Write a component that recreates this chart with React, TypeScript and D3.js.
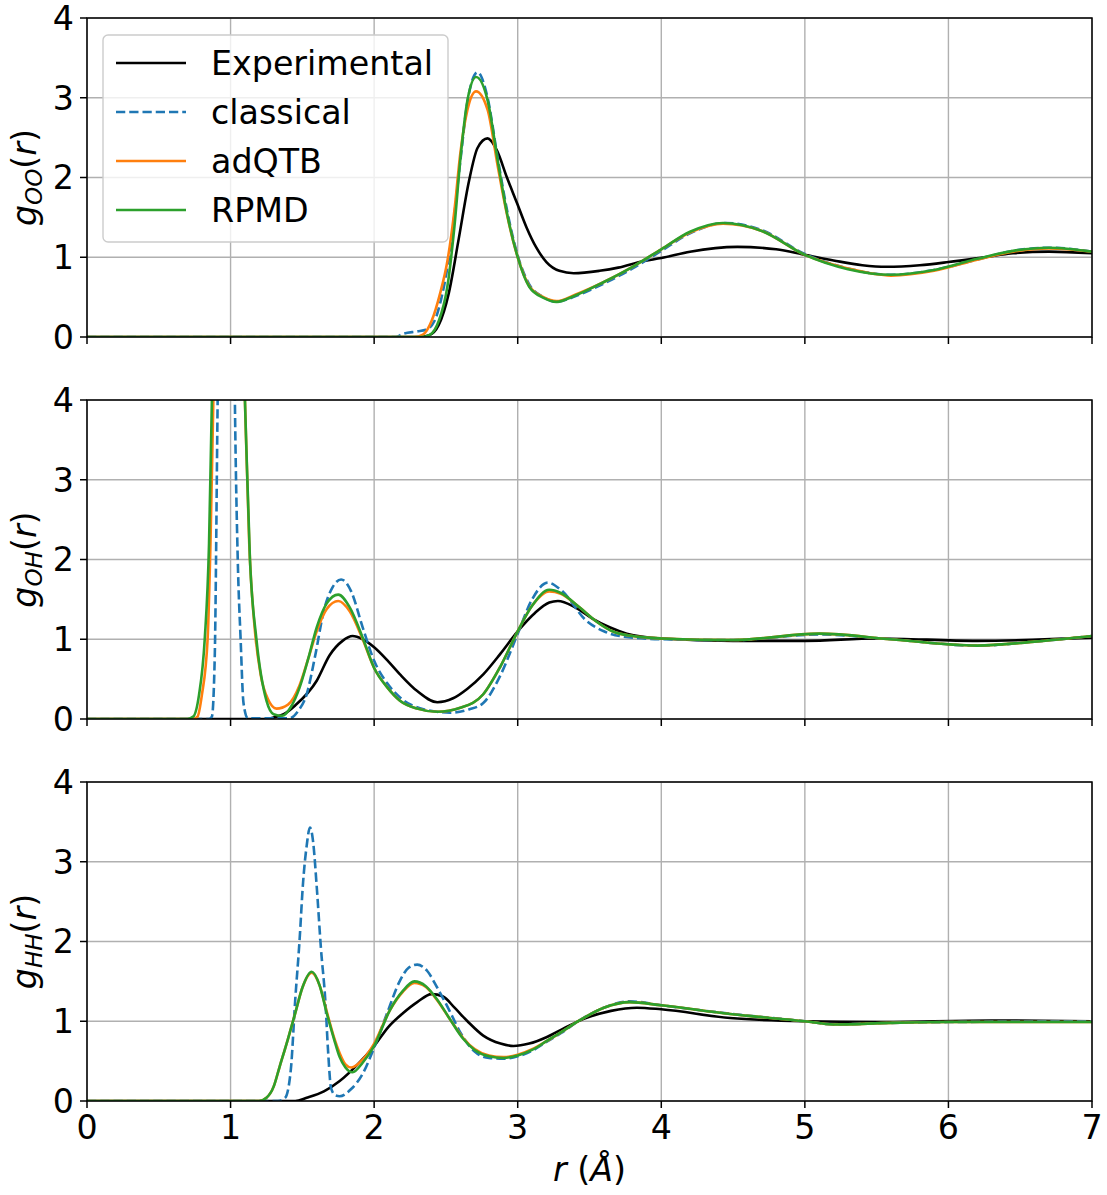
import React from "react";
import * as d3 from "d3";

type P = [number, number];

// ---------- data: g_OO(r) ----------
const ooExp: P[] = [[0,0],[2.3,0],[2.38,0.02],[2.45,0.15],[2.52,0.55],[2.59,1.24],[2.66,1.95],[2.72,2.37],[2.79,2.49],[2.855,2.34],[2.925,2.0],[2.995,1.68],[3.06,1.38],[3.13,1.12],[3.2,0.94],[3.29,0.83],[3.39,0.8],[3.57,0.83],[3.7,0.87],[3.87,0.95],[4.0,0.99],[4.2,1.07],[4.53,1.13],[4.8,1.1],[5.0,1.03],[5.2,0.96],[5.4,0.9],[5.57,0.88],[5.8,0.9],[6.0,0.94],[6.25,1.0],[6.45,1.05],[6.7,1.07],[7.0,1.05]];
const ooCla: P[] = [[0,0],[2.15,0],[2.2,0.04],[2.3,0.07],[2.36,0.09],[2.42,0.2],[2.47,0.5],[2.53,1.1],[2.6,2.2],[2.65,2.95],[2.72,3.32],[2.79,3.0],[2.86,2.25],[2.93,1.55],[3.0,1.02],[3.08,0.66],[3.18,0.5],[3.27,0.44],[3.4,0.51],[3.6,0.67],[3.8,0.86],[4.0,1.08],[4.2,1.3],[4.45,1.43],[4.7,1.34],[5.0,1.04],[5.3,0.86],[5.6,0.78],[5.9,0.84],[6.2,0.97],[6.45,1.08],[6.7,1.12],[7.0,1.07]];
const ooQtb: P[] = [[0,0],[2.28,0],[2.34,0.03],[2.4,0.2],[2.46,0.55],[2.51,0.95],[2.56,1.6],[2.6,2.3],[2.65,2.85],[2.71,3.08],[2.79,2.85],[2.86,2.15],[2.92,1.58],[3.0,1.0],[3.08,0.64],[3.18,0.5],[3.27,0.45],[3.4,0.53],[3.6,0.69],[3.8,0.88],[4.0,1.1],[4.2,1.31],[4.43,1.42],[4.7,1.33],[5.0,1.03],[5.3,0.86],[5.6,0.77],[5.9,0.83],[6.2,0.97],[6.45,1.07],[6.7,1.11],[7.0,1.07]];
const ooRpmd: P[] = [[0,0],[2.33,0],[2.39,0.03],[2.45,0.2],[2.51,0.63],[2.56,1.4],[2.6,2.22],[2.65,2.97],[2.71,3.26],[2.79,2.97],[2.86,2.22],[2.92,1.6],[3.0,1.0],[3.08,0.63],[3.18,0.49],[3.27,0.44],[3.4,0.52],[3.6,0.69],[3.8,0.88],[4.0,1.1],[4.2,1.32],[4.43,1.43],[4.7,1.33],[5.0,1.03],[5.3,0.85],[5.6,0.78],[5.9,0.84],[6.2,0.98],[6.45,1.08],[6.7,1.12],[7.0,1.07]];

// ---------- data: g_OH(r) ----------
const ohExp: P[] = [[0,0],[1.25,0],[1.3,0.02],[1.37,0.06],[1.45,0.17],[1.6,0.48],[1.69,0.8],[1.78,0.98],[1.85,1.04],[1.92,1.0],[2.0,0.9],[2.1,0.72],[2.18,0.56],[2.3,0.35],[2.44,0.21],[2.55,0.26],[2.65,0.38],[2.76,0.56],[2.88,0.82],[3.0,1.1],[3.12,1.33],[3.22,1.46],[3.28,1.48],[3.4,1.4],[3.52,1.26],[3.64,1.15],[3.76,1.07],[4.0,1.01],[4.5,0.98],[5.0,0.98],[5.5,1.01],[6.2,0.98],[7.0,1.02]];
const ohCla: P[] = [[0,0],[0.85,0],[0.87,0.03],[0.89,0.8],[0.91,4],[0.94,8],[0.98,9],[1.01,8],[1.03,4],[1.05,2.0],[1.07,1.0],[1.09,0.2],[1.12,0.01],[1.41,0.01],[1.47,0.1],[1.53,0.31],[1.59,0.8],[1.65,1.36],[1.71,1.65],[1.77,1.75],[1.84,1.6],[1.92,1.15],[2.0,0.73],[2.09,0.45],[2.18,0.27],[2.35,0.12],[2.53,0.08],[2.66,0.12],[2.76,0.2],[2.88,0.55],[3.0,1.07],[3.1,1.5],[3.21,1.71],[3.3,1.62],[3.48,1.23],[3.6,1.1],[3.71,1.04],[4.0,1.0],[4.5,0.99],[5.1,1.06],[5.6,1.0],[6.2,0.92],[6.6,0.97],[7.0,1.04]];
const ohQtb: P[] = [[0,0],[0.74,0],[0.77,0.03],[0.8,0.3],[0.84,1.0],[0.86,2.2],[0.88,4],[0.91,6],[0.98,7.5],[1.07,6],[1.1,4],[1.13,2.2],[1.17,1.1],[1.21,0.55],[1.26,0.25],[1.32,0.13],[1.4,0.18],[1.48,0.42],[1.54,0.75],[1.6,1.1],[1.67,1.38],[1.75,1.48],[1.83,1.35],[1.92,1.0],[2.0,0.64],[2.09,0.4],[2.18,0.23],[2.3,0.13],[2.44,0.09],[2.6,0.14],[2.76,0.31],[2.88,0.66],[3.0,1.1],[3.1,1.42],[3.22,1.6],[3.3,1.57],[3.43,1.4],[3.55,1.22],[3.66,1.1],[3.8,1.04],[4.0,1.01],[4.5,0.99],[5.1,1.07],[5.6,1.0],[6.2,0.92],[6.6,0.97],[7.0,1.04]];
const ohRpmd: P[] = [[0,0],[0.7,0],[0.74,0.03],[0.78,0.3],[0.82,1.0],[0.85,2.2],[0.87,4],[0.9,6],[0.98,7.5],[1.06,6],[1.1,4],[1.135,2.0],[1.18,1.0],[1.25,0.23],[1.3,0.06],[1.36,0.04],[1.42,0.15],[1.48,0.39],[1.54,0.75],[1.6,1.15],[1.67,1.45],[1.75,1.56],[1.83,1.4],[1.92,1.02],[2.0,0.64],[2.09,0.4],[2.18,0.23],[2.3,0.13],[2.44,0.09],[2.6,0.14],[2.76,0.31],[2.88,0.66],[3.0,1.1],[3.1,1.42],[3.22,1.62],[3.3,1.58],[3.43,1.4],[3.55,1.22],[3.66,1.1],[3.8,1.04],[4.0,1.01],[4.5,0.99],[5.1,1.07],[5.6,1.0],[6.2,0.92],[6.6,0.97],[7.0,1.04]];

// ---------- data: g_HH(r) ----------
const hhExp: P[] = [[0,0],[1.45,0],[1.53,0.04],[1.65,0.12],[1.76,0.25],[1.88,0.45],[2.0,0.69],[2.1,0.93],[2.2,1.1],[2.3,1.24],[2.4,1.34],[2.48,1.31],[2.56,1.17],[2.65,1.0],[2.76,0.82],[2.88,0.72],[2.97,0.69],[3.08,0.72],[3.2,0.8],[3.33,0.92],[3.46,1.03],[3.65,1.13],[3.83,1.17],[4.0,1.15],[4.48,1.04],[5.0,1.0],[5.5,0.99],[6.3,1.01],[7.0,1.0]];
const hhCla: P[] = [[0,0],[1.33,0],[1.38,0.04],[1.42,0.4],[1.45,1.26],[1.48,2.0],[1.505,2.74],[1.53,3.2],[1.553,3.43],[1.575,3.25],[1.6,2.69],[1.63,1.9],[1.66,1.26],[1.68,0.6],[1.7,0.16],[1.73,0.07],[1.76,0.06],[1.84,0.15],[1.92,0.34],[2.0,0.67],[2.09,1.1],[2.18,1.51],[2.24,1.67],[2.3,1.71],[2.37,1.63],[2.44,1.42],[2.52,1.15],[2.6,0.86],[2.7,0.62],[2.8,0.54],[2.9,0.53],[3.0,0.56],[3.1,0.63],[3.2,0.74],[3.3,0.85],[3.43,1.01],[3.6,1.17],[3.78,1.25],[4.0,1.2],[4.5,1.09],[5.0,1.0],[5.2,0.96],[5.6,0.98],[6.0,0.99],[7.0,1.0]];
const hhQtb: P[] = [[0,0],[1.2,0],[1.25,0.04],[1.3,0.18],[1.34,0.42],[1.4,0.78],[1.45,1.1],[1.5,1.42],[1.565,1.61],[1.62,1.45],[1.67,1.12],[1.72,0.8],[1.76,0.6],[1.8,0.46],[1.84,0.42],[1.92,0.52],[2.0,0.72],[2.11,1.14],[2.2,1.37],[2.28,1.48],[2.36,1.43],[2.44,1.26],[2.53,1.02],[2.62,0.79],[2.7,0.65],[2.8,0.57],[2.9,0.55],[3.0,0.58],[3.1,0.65],[3.2,0.75],[3.3,0.86],[3.43,1.01],[3.6,1.17],[3.78,1.24],[4.0,1.2],[4.48,1.09],[5.0,1.0],[5.2,0.96],[5.6,0.98],[6.0,0.99],[7.0,0.99]];
const hhRpmd: P[] = [[0,0],[1.2,0],[1.25,0.04],[1.3,0.18],[1.34,0.42],[1.4,0.78],[1.45,1.1],[1.5,1.42],[1.565,1.62],[1.62,1.45],[1.67,1.1],[1.72,0.78],[1.76,0.55],[1.8,0.42],[1.85,0.36],[1.92,0.48],[2.0,0.69],[2.11,1.14],[2.2,1.38],[2.28,1.5],[2.36,1.44],[2.44,1.27],[2.53,1.02],[2.62,0.78],[2.7,0.64],[2.8,0.56],[2.9,0.54],[3.0,0.57],[3.1,0.64],[3.2,0.75],[3.3,0.86],[3.43,1.01],[3.6,1.17],[3.78,1.24],[4.0,1.2],[4.48,1.09],[5.0,1.0],[5.2,0.96],[5.6,0.98],[6.0,0.99],[7.0,0.99]];

const seriesNames = ["Experimental", "classical", "adQTB", "RPMD"];
const seriesColors = ["#000000", "#1f77b4", "#ff7f0e", "#2ca02c"];
const seriesDash = [null, "9.25,4", null, null];
const xTicks = [0, 1, 2, 3, 4, 5, 6, 7];
const yTicks = [0, 1, 2, 3, 4];
const panelSub = ["OO", "OH", "HH"];
const panelData: P[][][] = [
  [ooExp, ooCla, ooQtb, ooRpmd],
  [ohExp, ohCla, ohQtb, ohRpmd],
  [hhExp, hhCla, hhQtb, hhRpmd],
];

const W = 1107, H = 1195;
const left = 87, right = 1092;
const panelTops = [18, 400, 782];
const panelH = 319;
const FONT = "DejaVu Sans, sans-serif";
const FS = 33.3;

export default function App() {
  const x = d3.scaleLinear().domain([0, 7]).range([left, right]);
  return (
    <svg width={W} height={H} style={{ display: "block", position: "absolute", left: 0, top: 0 }} fontFamily={FONT}>
      <rect x={0} y={0} width={W} height={H} fill="#fff" />
      <defs>
        {panelTops.map((t, i) => (
          <clipPath id={`clip${i}`} key={i}>
            <rect x={left} y={t} width={right - left} height={panelH} />
          </clipPath>
        ))}
      </defs>
      {panelTops.map((top, pi) => {
        const y = d3.scaleLinear().domain([0, 4]).range([top + panelH, top]);
        const line = d3
          .line<P>()
          .x((d) => x(d[0]))
          .y((d) => y(d[1]))
          .curve(d3.curveMonotoneX);
        const bottom = top + panelH;
        const cy = top + panelH / 2;
        return (
          <g key={pi}>
            {xTicks.map((t) => (
              <line key={"gx" + t} x1={x(t)} x2={x(t)} y1={top} y2={bottom} stroke="#b0b0b0" strokeWidth={1.4} />
            ))}
            {yTicks.map((t) => (
              <line key={"gy" + t} x1={left} x2={right} y1={y(t)} y2={y(t)} stroke="#b0b0b0" strokeWidth={1.4} />
            ))}
            <g clipPath={`url(#clip${pi})`}>
              {panelData[pi].map((s, si) => (
                <path
                  key={si}
                  d={line(s) || ""}
                  fill="none"
                  stroke={seriesColors[si]}
                  strokeWidth={2.6}
                  strokeDasharray={seriesDash[si] || undefined}
                  strokeLinejoin="round"
                />
              ))}
            </g>
            <rect x={left} y={top} width={right - left} height={panelH} fill="none" stroke="#000" strokeWidth={1.5} />
            {xTicks.map((t) => (
              <line key={"tx" + t} x1={x(t)} x2={x(t)} y1={bottom} y2={bottom + 7} stroke="#000" strokeWidth={1.5} />
            ))}
            {yTicks.map((t) => (
              <g key={"ty" + t}>
                <line x1={left - 7} x2={left} y1={y(t)} y2={y(t)} stroke="#000" strokeWidth={1.5} />
                <text x={left - 13} y={y(t)} dy="0.36em" textAnchor="end" fontSize={FS}>
                  {t}
                </text>
              </g>
            ))}
            {pi === 2 &&
              xTicks.map((t) => (
                <text key={"lx" + t} x={x(t)} y={bottom + 38} textAnchor="middle" fontSize={FS}>
                  {t}
                </text>
              ))}
            <text transform={`translate(36,${cy}) rotate(-90)`} textAnchor="middle" fontSize={FS}>
              <tspan fontStyle="italic">g</tspan>
              <tspan fontStyle="italic" fontSize={23} dy={6}>{panelSub[pi]}</tspan>
              <tspan dy={-6}>(</tspan>
              <tspan fontStyle="italic">r</tspan>
              <tspan>)</tspan>
            </text>
          </g>
        );
      })}
      <text x={(left + right) / 2} y={1181} textAnchor="middle" fontSize={FS}>
        <tspan fontStyle="italic">r</tspan>
        <tspan> (</tspan>
        <tspan fontStyle="italic">Å</tspan>
        <tspan>)</tspan>
      </text>
      <g>
        <rect x={103} y={35} width={345} height={207} rx={5} ry={5} fill="#fff" fillOpacity={0.8} stroke="#cccccc" strokeWidth={1.4} />
        {seriesNames.map((name, i) => {
          const ly = 63 + i * 49;
          return (
            <g key={name}>
              <line x1={116} x2={186} y1={ly} y2={ly} stroke={seriesColors[i]} strokeWidth={2.6} strokeDasharray={seriesDash[i] || undefined} />
              <text x={211} y={ly} dy="0.35em" fontSize={FS}>
                {name}
              </text>
            </g>
          );
        })}
      </g>
    </svg>
  );
}
